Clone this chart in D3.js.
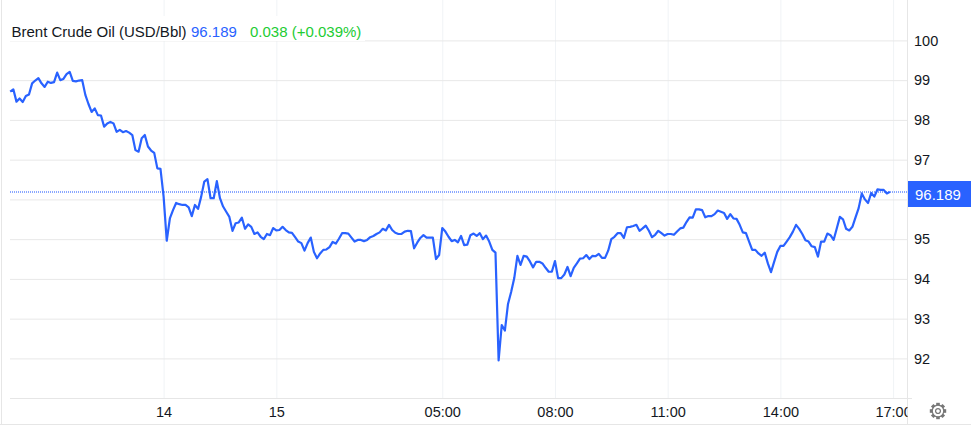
<!DOCTYPE html>
<html lang="en">

<head>
    <meta charset="UTF-8">
    <title>Brent Crude Oil</title>
    <script src="https://d3js.org/d3.v7.min.js"></script>
</head>
<style>
    html, body {
        margin: 0;
        padding: 0;
        background: #fff;
        overflow: hidden;
    }

    svg {
        display: block;
        font-family: "Liberation Sans", Arial, sans-serif;
    }
</style>

<body>
    <div id="chart"></div>
    <script>
        // 5 minute closes
        const prices = [
            98.71, 98.77, 98.46, 98.54, 98.45, 98.60, 98.64, 98.92, 98.99, 99.05,
            98.92, 98.83, 98.96, 98.93, 98.95, 99.19, 99.00, 99.03, 99.15, 99.21,
            98.98, 98.97, 98.99, 99.00, 98.63, 98.40, 98.20, 98.29, 98.12, 98.11,
            97.83, 97.91, 97.95, 97.91, 97.70, 97.75, 97.69, 97.72, 97.68, 97.62,
            97.24, 97.20, 97.54, 97.62, 97.33, 97.23, 97.17, 96.78, 96.77, 96.07,
            94.96, 95.52, 95.73, 95.91, 95.88, 95.86, 95.86, 95.80, 95.58, 95.86,
            95.76, 96.07, 96.45, 96.51, 96.03, 96.03, 96.46, 96.03, 95.82, 95.69,
            95.56, 95.21, 95.40, 95.42, 95.54, 95.26, 95.37, 95.31, 95.13, 95.17,
            95.06, 95.00, 95.13, 95.10, 95.28, 95.22, 95.23, 95.31, 95.23, 95.17,
            95.16, 95.05, 94.94, 94.90, 94.71, 94.90, 95.04, 94.68, 94.52, 94.64,
            94.73, 94.74, 94.80, 94.93, 94.89, 95.01, 95.15, 95.15, 95.14, 95.04,
            94.94, 94.98, 94.98, 94.95, 94.98, 95.05, 95.08, 95.13, 95.17, 95.26,
            95.22, 95.36, 95.23, 95.16, 95.13, 95.13, 95.19, 95.21, 95.20, 94.77,
            94.91, 95.03, 95.10, 95.04, 95.04, 95.04, 94.50, 94.60, 95.28, 95.19,
            95.06, 94.95, 94.98, 94.92, 95.08, 94.85, 94.86, 95.10, 95.14, 95.08,
            95.15, 95.00, 95.09, 94.94, 94.73, 94.66, 91.95, 92.84, 92.70, 93.37,
            93.67, 94.02, 94.58, 94.35, 94.58, 94.56, 94.44, 94.29, 94.43, 94.43,
            94.39, 94.28, 94.18, 94.18, 94.45, 94.02, 94.02, 94.11, 94.30, 94.07,
            94.28, 94.39, 94.51, 94.52, 94.60, 94.50, 94.58, 94.57, 94.63, 94.53,
            94.53, 94.71, 95.00, 95.06, 95.15, 95.15, 95.03, 95.30, 95.31, 95.33,
            95.36, 95.21, 95.27, 95.34, 95.21, 95.05, 95.11, 95.21, 95.15, 95.09,
            95.13, 95.13, 95.11, 95.19, 95.27, 95.29, 95.43, 95.55, 95.54, 95.75,
            95.75, 95.73, 95.55, 95.58, 95.58, 95.63, 95.72, 95.69, 95.66, 95.51,
            95.63, 95.52, 95.51, 95.36, 95.17, 95.15, 94.94, 94.73, 94.73, 94.64,
            94.58, 94.66, 94.39, 94.17, 94.43, 94.68, 94.83, 94.83, 94.94, 95.05,
            95.19, 95.36, 95.26, 95.13, 94.97, 94.94, 94.82, 94.80, 94.56, 94.94,
            94.94, 95.14, 95.10, 94.98, 95.27, 95.56, 95.50, 95.26, 95.22, 95.31,
            95.55, 95.78, 96.15, 96.00, 95.91, 96.16, 96.07, 96.25, 96.24, 96.24,
            96.15, 96.189
        ];
        const timeTickBars = [49, 85, 138, 174, 210, 246, 282];
        const timeTickLabels = ['14', '15', '05:00', '08:00', '11:00', '14:00', '17:00'];
        const priceTicks = [92, 93, 94, 95, 96, 97, 98, 99, 100];
        const lastPrice = 96.189;
        const change = '0.038';
        const changePct = '(+0.039%)';

        const width = 971,
            height = 427,
            paneRight = 907.5,
            paneBottom = 398;

        const blue = '#2962ff';

        const svg = d3.select('#chart')
            .append('svg')
            .attr('width', width)
            .attr('height', height);

        const x = d3.scaleLinear().domain([0, 282]).range([10.2, 893.1]);
        const y = d3.scaleLinear().domain([92, 100]).range([358.4, 40.4]);

        // clip for the last time label
        svg.append('clipPath').attr('id', 'pane-clip')
            .append('rect')
            .attr('x', 0)
            .attr('y', 0)
            .attr('width', paneRight)
            .attr('height', height);

        // page borders
        svg.append('line')
            .attr('x1', 1.5).attr('x2', 1.5)
            .attr('y1', 0).attr('y2', 424)
            .attr('stroke', '#e6e6e6');
        svg.append('line')
            .attr('x1', 0).attr('x2', width)
            .attr('y1', 424.5).attr('y2', 424.5)
            .attr('stroke', '#e6e6e6');

        // vertical grid
        svg.append('g')
            .attr('transform', `translate(0,${paneBottom})`)
            .call(d3.axisBottom(x).tickValues(timeTickBars).tickSize(-paneBottom).tickFormat(''))
            .call(g => g.select('.domain').remove())
            .call(g => g.selectAll('line').attr('stroke', '#f0f3f6'));

        // horizontal grid
        svg.append('g')
            .attr('transform', `translate(10,0)`)
            .call(d3.axisRight(y).tickValues(priceTicks).tickSize(paneRight - 10).tickFormat(''))
            .call(g => g.select('.domain').remove())
            .call(g => g.selectAll('line').attr('stroke', '#e8e8e8'));

        // white box behind legend
        svg.append('rect')
            .attr('x', 10)
            .attr('y', 16)
            .attr('width', 355)
            .attr('height', 25)
            .attr('fill', '#fff');

        // last price dotted line
        svg.append('g')
            .selectAll('rect')
            .data(d3.range(10, paneRight, 2))
            .enter()
            .append('rect')
            .attr('x', d => d)
            .attr('y', 191)
            .attr('width', 1)
            .attr('height', 2)
            .attr('fill', '#8aa8ff');

        // price line
        const line = d3.line()
            .x((d, i) => x(i))
            .y(d => y(d));

        svg.append('path')
            .datum(prices)
            .attr('d', line)
            .attr('fill', 'none')
            .attr('stroke', blue)
            .attr('stroke-width', 2.2)
            .attr('stroke-linejoin', 'round');

        // right axis
        svg.append('line')
            .attr('x1', paneRight).attr('x2', paneRight)
            .attr('y1', 0).attr('y2', 424)
            .attr('stroke', '#e6e6e6');

        svg.append('g')
            .attr('transform', `translate(${paneRight},0)`)
            .call(d3.axisRight(y).tickValues(priceTicks.filter(d => d !== 96)).tickSize(0).tickPadding(6.5).tickFormat(d3.format('d')))
            .call(g => g.select('.domain').remove())
            .call(g => g.selectAll('text')
                .attr('font-size', 14.5)
                .attr('font-family', '"Liberation Sans", Arial, sans-serif')
                .attr('fill', '#131722'));

        // bottom axis
        svg.append('line')
            .attr('x1', 10).attr('x2', 912)
            .attr('y1', paneBottom + 0.5).attr('y2', paneBottom + 0.5)
            .attr('stroke', '#e6e6e6');

        svg.append('g')
            .attr('transform', `translate(0,${paneBottom})`)
            .attr('clip-path', 'url(#pane-clip)')
            .call(d3.axisBottom(x).tickValues(timeTickBars).tickSize(0).tickPadding(9)
                .tickFormat((d, i) => timeTickLabels[i]))
            .call(g => g.select('.domain').remove())
            .call(g => g.selectAll('text')
                .attr('font-size', 14.5)
                .attr('font-family', '"Liberation Sans", Arial, sans-serif')
                .attr('fill', '#131722'));

        // last price label
        svg.append('rect')
            .attr('x', 908)
            .attr('y', 181)
            .attr('width', width - 908)
            .attr('height', 26)
            .attr('fill', blue);
        svg.append('text')
            .attr('x', 915)
            .attr('y', 199.5)
            .attr('font-size', 15)
            .attr('fill', '#fff')
            .text(d3.format('.3f')(lastPrice));

        // legend
        svg.append('text')
            .attr('x', 11.5)
            .attr('y', 37)
            .attr('font-size', 15)
            .attr('fill', '#131722')
            .text('Brent Crude Oil (USD/Bbl)');
        svg.append('text')
            .attr('x', 191)
            .attr('y', 37)
            .attr('font-size', 15)
            .attr('fill', '#2962ff')
            .text(d3.format('.3f')(lastPrice));
        svg.append('text')
            .attr('x', 250)
            .attr('y', 37)
            .attr('font-size', 15)
            .attr('fill', '#22cc33')
            .text(change + ' ' + changePct);

        // settings gear
        const gear = svg.append('g').attr('transform', 'translate(938,411)');
        const teeth = d3.range(0, 8).map(i => i * 45);
        gear.selectAll('rect')
            .data(teeth)
            .enter()
            .append('rect')
            .attr('x', -1.8)
            .attr('y', -8.2)
            .attr('width', 3.6)
            .attr('height', 3)
            .attr('fill', '#777')
            .attr('transform', d => `rotate(${d})`);
        gear.append('circle')
            .attr('r', 5.8)
            .attr('fill', '#fff')
            .attr('stroke', '#777')
            .attr('stroke-width', 1.3);
        gear.append('circle')
            .attr('r', 2.4)
            .attr('fill', '#fff')
            .attr('stroke', '#777')
            .attr('stroke-width', 1.3);
    </script>
</body>

</html>
